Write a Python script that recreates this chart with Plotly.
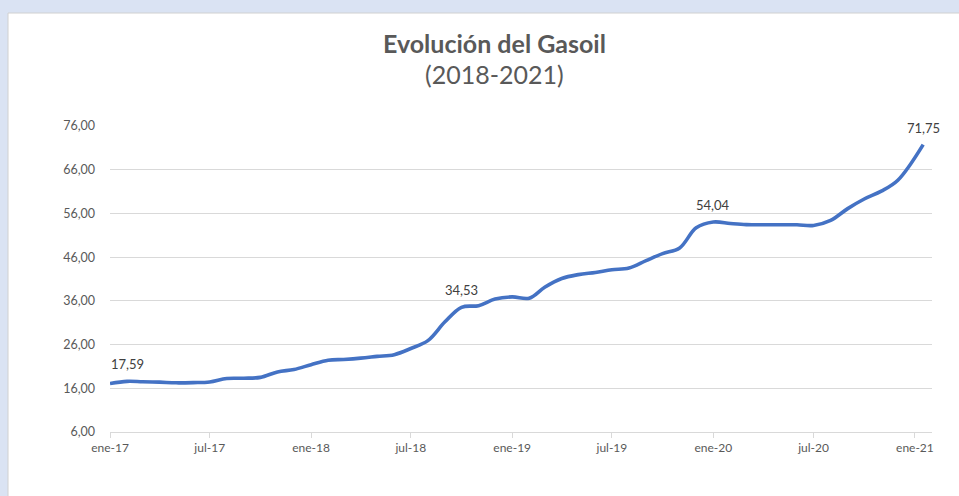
import plotly.graph_objects as go

# ---- data ----
dates = [
    "2017-01-01", "2017-02-01", "2017-03-01", "2017-04-01", "2017-05-01", "2017-06-01",
    "2017-07-01", "2017-08-01", "2017-09-01", "2017-10-01", "2017-11-01", "2017-12-01",
    "2018-01-01", "2018-02-01", "2018-03-01", "2018-04-01", "2018-05-01", "2018-06-01",
    "2018-07-01", "2018-08-01", "2018-09-01", "2018-10-01", "2018-11-01", "2018-12-01",
    "2019-01-01", "2019-02-01", "2019-03-01", "2019-04-01", "2019-05-01", "2019-06-01",
    "2019-07-01", "2019-08-01", "2019-09-01", "2019-10-01", "2019-11-01", "2019-12-01",
    "2020-01-01", "2020-02-01", "2020-03-01", "2020-04-01", "2020-05-01", "2020-06-01",
    "2020-07-01", "2020-08-01", "2020-09-01", "2020-10-01", "2020-11-01", "2020-12-01",
    "2021-01-16",
]
gasoil = [
    17.10, 17.59, 17.50, 17.40, 17.25, 17.30,
    17.45, 18.25, 18.30, 18.50, 19.75, 20.30,
    21.40, 22.40, 22.60, 22.90, 23.30, 23.70,
    25.10, 26.90, 31.20, 34.53, 34.90, 36.40,
    36.90, 36.60, 39.10, 41.10, 42.00, 42.50,
    43.10, 43.50, 45.20, 46.80, 48.10, 52.70,
    54.04, 53.70, 53.45, 53.40, 53.40, 53.40,
    53.25, 54.40, 57.10, 59.30, 61.10, 63.60,
    71.75,
]
label_idx = [1, 21, 36, 48]

y_ticks = [6, 16, 26, 36, 46, 56, 66, 76]
x_tickvals = ["2017-01-01", "2017-07-01", "2018-01-01", "2018-07-01", "2019-01-01",
              "2019-07-01", "2020-01-01", "2020-07-01", "2021-01-01"]
x_ticktext = ["ene-17", "jul-17", "ene-18", "jul-18", "ene-19",
              "jul-19", "ene-20", "jul-20", "ene-21"]

title_main = "Evolución del Gasoil"
title_sub = "(2018-2021)"


def fmt(v):
    return f"{v:.2f}".replace(".", ",")


FONT = "Lato"
BLUE_PAGE = "#dae3f3"
W, H = 959, 496
L, R, T, B = 110, 27, 126, 64
pw, ph = W - L - R, H - T - B

fig = go.Figure()
fig.add_trace(go.Scatter(
    x=dates, y=gasoil, mode="lines",
    line=dict(color="#4472c4", width=3.6, shape="spline", smoothing=1.0),
    hoverinfo="x+y", showlegend=False,
))

for i in label_idx:
    fig.add_annotation(
        x=dates[i], y=gasoil[i], text=fmt(gasoil[i]), showarrow=False,
        yshift=17, font=dict(family=FONT, size=13, color="#404040"),
    )

# white chart area over light blue page
fig.add_shape(
    type="rect", xref="paper", yref="paper", layer="below",
    x0=(8 - L) / pw, x1=(W + 20 - L) / pw,
    y0=-(H + 20 - (T + ph)) / ph, y1=(T + ph - 13) / ph,
    fillcolor="white", line=dict(color="#d0d0d0", width=1),
)

cx = (494.5 - L) / pw
fig.add_annotation(
    xref="paper", yref="paper", x=cx, y=(T + ph - 43) / ph,
    xanchor="center", yanchor="middle",
    text=f"<b>{title_main}</b>", showarrow=False,
    font=dict(family=FONT, size=25, color="#595959"),
)
fig.add_annotation(
    xref="paper", yref="paper", x=cx, y=(T + ph - 74) / ph,
    xanchor="center", yanchor="middle",
    text=title_sub, showarrow=False,
    font=dict(family=FONT, size=25, color="#595959"),
)

fig.update_layout(
    width=W, height=H,
    margin=dict(l=L, r=R, t=T, b=B),
    paper_bgcolor=BLUE_PAGE,
    plot_bgcolor="white",
    font=dict(family=FONT, color="#595959"),
    xaxis=dict(
        type="date", range=["2017-01-01", "2021-02-01"],
        tickvals=x_tickvals, ticktext=x_ticktext,
        showgrid=False, showline=True, linecolor="#d9d9d9", linewidth=1,
        ticks="outside", ticklen=5, tickcolor="#d9d9d9",
        tickfont=dict(family=FONT, size=12, color="#595959"),
        zeroline=False,
    ),
    yaxis=dict(
        range=[6, 76], tickvals=y_ticks, ticktext=[fmt(v) for v in y_ticks],
        showgrid=True, gridcolor="#d9d9d9", gridwidth=1, zeroline=False,
        showline=False, ticks="",
        tickfont=dict(family=FONT, size=12.5, color="#595959"),
        ticklabelstandoff=14,
    ),
)

fig.write_html(
    "out.html",
    config={"displayModeBar": False},
    post_script=(
        "document.body.style.margin='0';"
        "document.body.style.overflow='hidden';"
        f"document.body.style.backgroundColor='{BLUE_PAGE}';"
    ),
)
